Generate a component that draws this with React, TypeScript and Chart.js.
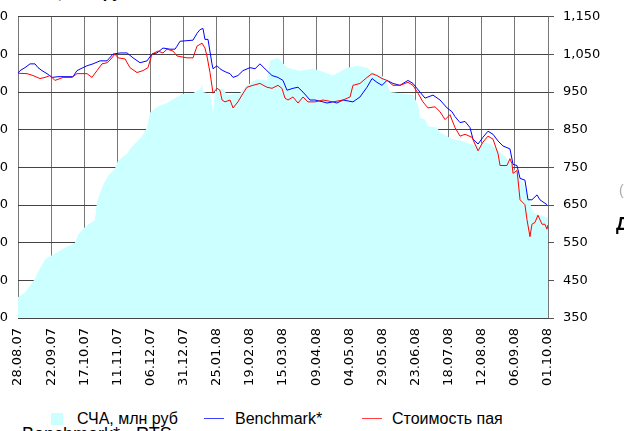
import React, { useEffect, useRef } from "react";
import { Chart, registerables } from "chart.js";

Chart.register(...registerables);

// X axis: days since 28.08.07, ticks every 25 days
const xTickLabels = [
  "28.08.07", "22.09.07", "17.10.07", "11.11.07", "06.12.07", "31.12.07",
  "25.01.08", "19.02.08", "15.03.08", "09.04.08", "04.05.08", "29.05.08",
  "23.06.08", "18.07.08", "12.08.08", "06.09.08", "01.10.08",
];
const rightTickLabels = ["350", "450", "550", "650", "750", "850", "950", "1,050", "1,150"];
const leftTickLabels = ["0", "100", "200", "300", "400", "500", "600", "700", "800"];

// СЧА, млн руб (left axis)
const navDays = [0, 5.3, 12.8, 14.3, 20.4, 27.9, 34, 43, 45.3, 50.6, 58.1, 59.6, 64.2, 67.9, 73.2, 75.5, 82.3, 84.5, 93.6, 97.4, 99.6, 104.9, 112.5, 120, 123.8, 132.1, 137.4, 138.9, 139.6, 144.9, 147.2, 148.7, 154.7, 157.7, 167.5, 172.8, 180.4, 187.9, 190.2, 196.2, 199.2, 203, 212.8, 222.6, 227.9, 237.7, 248.3, 255.8, 263.4, 267.9, 274.7, 278.5, 280.8, 288.3, 298.1, 301.9, 303.4, 307.2, 309.4, 316.2, 318.5, 323.8, 328.3, 335.1, 341.1, 348.7, 350.9, 356.2, 363.8, 369, 371.3, 376.6, 381.1, 384.9, 388.7, 393.9, 399.2, 400];
const navValues = [55, 68, 104, 117, 156, 171, 184, 200, 221, 242, 260, 309, 353, 377, 397, 418, 436, 449, 483, 506, 545, 561, 571, 587, 595, 597, 608, 621, 600, 595, 548, 600, 610, 592, 597, 618, 634, 631, 683, 691, 680, 665, 657, 662, 657, 644, 665, 670, 665, 652, 644, 623, 600, 597, 592, 566, 532, 527, 509, 506, 493, 483, 475, 470, 462, 457, 470, 462, 441, 423, 410, 384, 358, 325, 280, 273, 267, 267];

// Benchmark* (right axis)
const benchDays = [0, 1.5, 5.3, 9.1, 12.8, 15.1, 18.1, 21.9, 25.7, 30.2, 35.5, 41.5, 44.5, 49.1, 52.1, 56.6, 61.9, 67.2, 71.7, 77, 82.3, 86.8, 92.1, 97.4, 101.1, 104.9, 109.4, 114.7, 118.5, 120, 122.3, 132.1, 135.1, 137.4, 139.6, 141.1, 143.4, 146.4, 147.2, 150.2, 152.4, 154.7, 157.7, 160, 162.3, 166, 169.8, 175.1, 178.9, 182.6, 186.4, 191.7, 196.2, 200, 203, 207.5, 211.3, 215.1, 220.4, 224.1, 230.2, 233.2, 237.7, 240.7, 245.3, 252.8, 258.1, 263.4, 267.2, 270.9, 274.7, 278.5, 283, 288.3, 294.3, 298.1, 303.4, 307.2, 313.2, 318.5, 323.8, 327.5, 329.8, 333.6, 337.4, 341.1, 343.4, 347.2, 350.9, 354.7, 358.5, 362.3, 366, 371.3, 373.6, 376.6, 378.9, 382.6, 384.9, 387.9, 391.7, 393.9, 399.2];
const benchValues = [1000, 1007, 1015, 1025, 1025, 1015, 1007, 999, 989, 991, 991, 991, 1007, 1015, 1020, 1025, 1033, 1033, 1051, 1054, 1054, 1041, 1028, 1033, 1051, 1054, 1067, 1064, 1064, 1072, 1085, 1088, 1106, 1116, 1119, 1090, 1090, 1025, 1012, 1020, 1012, 1007, 1002, 999, 989, 994, 1007, 1015, 1012, 1025, 1012, 994, 989, 981, 955, 960, 963, 950, 929, 929, 924, 921, 924, 921, 929, 924, 937, 963, 986, 976, 968, 981, 973, 968, 981, 973, 950, 934, 942, 929, 908, 898, 885, 869, 872, 856, 825, 812, 830, 846, 838, 820, 807, 799, 758, 755, 721, 716, 664, 664, 677, 664, 651];

// Стоимость пая (right axis)
const priceDays = [0, 6.8, 11.3, 16.6, 20.4, 24.2, 27.9, 34, 40.8, 44.5, 52.1, 55.8, 59.6, 63.4, 67.2, 69.4, 73.2, 75.5, 80.8, 84.5, 89.8, 94.3, 98.1, 101.1, 105.7, 109.4, 112.5, 117, 120, 127.5, 132.1, 135.1, 138.9, 141.1, 142.6, 144.9, 147.2, 150.2, 152.4, 154, 156.2, 160, 162.3, 166, 169, 172.8, 177.3, 182.6, 187.9, 191.7, 196.2, 199.2, 201.5, 203.8, 207.5, 211.3, 215.1, 218.9, 224.1, 230.2, 237.7, 245.3, 250.6, 252.8, 258.1, 263.4, 267.2, 270.9, 274.7, 278.5, 283, 288.3, 294.3, 298.1, 301.9, 305.6, 309.4, 314.7, 318.5, 322.3, 326, 329.8, 333.6, 337.4, 342.6, 347.2, 350.9, 354.7, 358.5, 362.3, 363.8, 369, 371.3, 372.8, 373.6, 376.6, 377.4, 378.9, 382.6, 384.1, 386.4, 387.9, 390.2, 392.4, 395.5, 397.7, 399.2, 400];
const priceValues = [1000, 999, 994, 986, 989, 994, 981, 989, 989, 999, 999, 989, 1007, 1025, 1028, 1035, 1051, 1041, 1038, 1015, 1002, 1007, 1015, 1051, 1059, 1054, 1064, 1059, 1046, 1041, 1041, 1072, 1080, 1067, 1046, 1002, 947, 960, 955, 929, 924, 929, 908, 924, 942, 963, 968, 973, 963, 960, 968, 960, 934, 929, 937, 921, 937, 924, 924, 929, 924, 929, 937, 968, 973, 989, 999, 994, 986, 981, 968, 968, 976, 968, 947, 924, 908, 911, 898, 877, 890, 856, 833, 838, 830, 794, 817, 833, 825, 786, 755, 755, 773, 760, 734, 742, 716, 664, 651, 612, 566, 599, 604, 623, 599, 599, 586, 597];

const FONT_AXIS = "'DejaVu Sans', Verdana, sans-serif";
const FONT_TEXT = "'Liberation Sans', Arial, sans-serif";

const toPoints = (xs: number[], ys: number[]) => xs.map((x, i) => ({ x, y: ys[i] }));

// Left-axis tick labels, drawn right-aligned just left of the y1 scale box edge
const leftAxisLabels = {
  id: "leftAxisLabels",
  afterDraw(chart: any) {
    const s = chart.scales.y1;
    const ctx = chart.ctx;
    ctx.save();
    ctx.fillStyle = "#000";
    ctx.font = "13px " + FONT_AXIS;
    ctx.textAlign = "right";
    ctx.textBaseline = "middle";
    s.ticks.forEach((t: any) => {
      const label = leftTickLabels[Math.round(t.value / 100)] ?? "";
      ctx.fillText(label, s.right - 10, s.getPixelForValue(t.value));
    });
    ctx.restore();
  },
};

function ChartCanvas() {
  const ref = useRef<HTMLCanvasElement | null>(null);
  useEffect(() => {
    if (!ref.current) return;
    const chart = new Chart(ref.current, {
      type: "line",
      plugins: [leftAxisLabels],
      data: {
        datasets: [
          { label: "Стоимость пая", data: toPoints(priceDays, priceValues), borderColor: "rgb(255,0,0)", borderWidth: 1, pointRadius: 0, tension: 0, fill: false, yAxisID: "y", order: 1 },
          { label: "Benchmark*", data: toPoints(benchDays, benchValues), borderColor: "rgb(0,0,255)", borderWidth: 1, pointRadius: 0, tension: 0, fill: false, yAxisID: "y", order: 2 },
          { label: "СЧА, млн руб", data: toPoints(navDays, navValues), borderWidth: 0, borderColor: "rgba(0,0,0,0)", backgroundColor: "#CCFFFF", pointRadius: 0, tension: 0, fill: "origin", yAxisID: "y1", order: 3 },
        ],
      },
      options: {
        responsive: false,
        animation: false,
        devicePixelRatio: 1,
        events: [],
        layout: { padding: { top: 10, left: 0, right: 0, bottom: 0 } },
        plugins: { legend: { display: false }, tooltip: { enabled: false }, title: { display: false } },
        scales: {
          x: {
            type: "linear", min: 0, max: 400,
            afterFit: (s: any) => { s.height = 70; },
            grid: { display: true, color: "#777", drawTicks: false, lineWidth: 1 },
            border: { display: false },
            ticks: { stepSize: 25, autoSkip: false, maxRotation: 90, minRotation: 90, padding: 10, color: "#000", font: { family: FONT_AXIS, size: 13 },
              callback: (v: any) => xTickLabels[Math.round(Number(v) / 25)] ?? "" },
          },
          y1: {
            type: "linear", position: "left", min: 0, max: 800,
            afterFit: (s: any) => { s.width = 58; },
            grid: { display: false, drawOnChartArea: false },
            border: { display: false },
            ticks: { display: false, stepSize: 100 },
          },
          y: {
            type: "linear", position: "right", min: 350, max: 1150,
            afterFit: (s: any) => { s.width = 80; },
            grid: { display: true, color: "#444", tickColor: "#555", drawTicks: true, tickLength: 6, lineWidth: 1 },
            border: { display: false },
            ticks: { stepSize: 100, padding: 9, color: "#000", font: { family: FONT_AXIS, size: 13 },
              callback: (v: any) => rightTickLabels[Math.round((Number(v) - 350) / 100)] ?? "" },
          },
        },
      },
    });
    return () => chart.destroy();
  }, []);
  return (
    <canvas ref={ref} width={668} height={388}
      style={{ position: "absolute", left: -40, top: 0, width: 668, height: 388 }} />
  );
}

export default function App() {
  const txt: React.CSSProperties = { position: "absolute", fontFamily: FONT_TEXT, fontSize: 16, lineHeight: "16px", whiteSpace: "nowrap", color: "#000" };
  return (
    <div style={{ position: "absolute", left: 0, top: 0, width: 624, height: 431, overflow: "hidden", background: "#fff" }}>
      <div style={{ ...txt, left: -59, top: -15.5, fontWeight: "bold" }}>Динамика СЧА, млн руб</div>
      <ChartCanvas />
      <div style={{ position: "absolute", left: 51, top: 413, width: 12, height: 12, background: "#CCFFFF" }} />
      <div style={{ ...txt, left: 77, top: 411 }}>СЧА, млн руб</div>
      <div style={{ position: "absolute", left: 204, top: 418, width: 20, height: 1, background: "#4040ff" }} />
      <div style={{ ...txt, left: 235, top: 411 }}>Benchmark*</div>
      <div style={{ position: "absolute", left: 362, top: 418, width: 20, height: 1, background: "#ff4040" }} />
      <div style={{ ...txt, left: 392, top: 411 }}>Стоимость пая</div>
      <div style={{ ...txt, left: 22, top: 425, fontSize: 18, lineHeight: "18px" }}>Benchmark* - RTS</div>
      <div style={{ ...txt, left: 619, top: 183, fontSize: 14, lineHeight: "14px", color: "#aaa" }}>(</div>
      <div style={{ ...txt, left: 616, top: 215, fontSize: 18, lineHeight: "18px", fontWeight: "bold" }}>Д</div>
    </div>
  );
}
